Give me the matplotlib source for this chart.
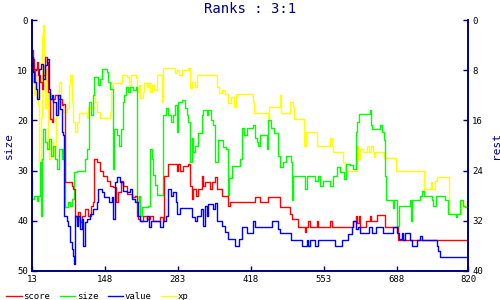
import matplotlib
matplotlib.use("Agg")
import matplotlib.pyplot as plt

# ── data, (step, rank) pairs ──────────────────────────────────────────
score = [(13, 6), (14, 9), (15.5, 7.7), (16.7, 12.3), (18.6, 9.7), (21.6, 8.3), (24.7, 11),
         (27.8, 12.3), (30.9, 13.7), (34, 11), (37, 7.3), (40, 8.3), (43, 14.3), (46, 19.7),
         (49.4, 20.3), (52.5, 15.7), (55.6, 15), (61.7, 15.7), (67.9, 17), (71, 16.7),
         (74, 32.3), (86.4, 33), (89.5, 33.7), (92.6, 39), (95.7, 40), (98.8, 38.3),
         (101.9, 40.3), (105, 39), (111, 37.7), (117, 39), (121.6, 37), (126.5, 36.3),
         (128.4, 27.7), (132.7, 28.3), (138.9, 30), (145, 31), (151, 32), (157.4, 33),
         (163.5, 33.3), (168.5, 36.3), (172.8, 34.3), (177, 32), (182, 33), (188, 34.7),
         (197.5, 35.3), (203.7, 35), (206.7, 39), (209.8, 39.7), (213, 40), (219, 39),
         (225, 39.7), (231.5, 39), (237.7, 40), (250, 39.3), (256, 40), (257.4, 31),
         (265.4, 28.7), (280.9, 30), (284, 28.7), (287, 30), (293, 29), (302.5, 28.7),
         (305.6, 33), (308.6, 35.7), (311.7, 33.7), (316, 35), (321, 33.7), (327, 31),
         (330, 33), (333, 32.3), (342.6, 33.7), (345.7, 32.3), (351.8, 31.3), (355, 33.7),
         (364, 35), (376.5, 37), (379.6, 36.3), (425.8, 35.2), (435, 36.3), (450.4, 35.2),
         (472, 37.3), (490.5, 38.7), (493.6, 39.7), (506, 41.2), (518.3, 42.3), (520, 41.2),
         (524.5, 40), (527.6, 41.2), (540, 40), (543, 41.2), (564.6, 40), (567.7, 41.2),
         (607.8, 40), (612.7, 39), (615, 40.5), (617.6, 39), (620, 41.2), (632, 40),
         (638.5, 39), (640.4, 40), (651, 38.9), (666, 41.2), (691, 43.9), (820, 43.9)]

size = [(13, 31.6), (13.5, 35.6), (16.7, 35), (21.6, 36), (24.7, 35), (27.8, 28.3),
        (29.7, 39), (31.5, 27.7), (34, 21.7), (37, 24.3), (41.4, 25.7), (45, 23.7),
        (47.6, 27), (52.5, 25), (55.6, 27.7), (60, 29.7), (63.6, 25.7), (67.9, 27.7),
        (71, 25.7), (74, 37.3), (80.3, 36.3), (83.3, 37), (86.4, 35.6), (91.4, 30.3),
        (95.7, 30), (111, 27.7), (115.4, 25.7), (118.5, 16.3), (122.2, 19), (125.3, 15),
        (127.8, 11.3), (135.8, 13), (138.9, 11.7), (142, 9.7), (151.2, 10.3), (154.3, 12.3),
        (157.4, 13.7), (162.3, 29.7), (164.8, 21.7), (171, 23), (174.7, 25), (177.7, 21.7),
        (180.8, 16.3), (183.3, 15), (186.4, 13.3), (191.3, 14.3), (194.4, 13.3), (200.6, 14),
        (205.5, 13.3), (206.7, 21), (208, 36.3), (211, 35), (213, 39), (216, 37.2),
        (228.4, 37), (231.5, 25.6), (234.6, 27.6), (237.7, 30.9), (240.8, 32.9),
        (243.9, 34.9), (256.2, 18.9), (261, 17.6), (265.4, 18.9), (269.8, 20.3),
        (274.7, 18.9), (277.8, 17), (280.9, 22.3), (284, 16.3), (290, 16), (296.3, 17.6),
        (299.4, 18.9), (302.5, 20.3), (305.6, 28.3), (308.6, 23.6), (311.7, 26.3),
        (314.8, 25), (321, 22.6), (327, 19), (330, 18), (336.4, 19), (339.5, 18),
        (343.8, 20), (348.7, 21), (352.4, 28.3), (356.8, 24), (367.3, 25.3), (372.2, 25.6),
        (375.3, 34.9), (378.4, 31.5), (382.7, 29), (398.1, 27.6), (401.2, 21.6),
        (405.5, 23), (410.4, 21.6), (422.7, 21), (425.8, 23.6), (428.8, 24.3), (432, 25),
        (435, 23), (448.6, 25.6), (450.4, 20), (454.8, 21.6), (461, 22.6), (469, 27),
        (472, 29.3), (477, 28.3), (482.5, 27), (491.8, 28.3), (493.6, 35.9), (496.7, 31),
        (518.3, 33.6), (521.4, 31), (536.8, 32), (543, 31), (546, 33), (552.2, 32),
        (564.6, 33), (570.7, 31), (578.2, 29.3), (583, 30.2), (591, 31.6), (593.6, 28.6),
        (601.6, 28.9), (607.8, 29.6), (612, 22.3), (615, 20.3), (618.3, 18.8), (638.5, 18),
        (639.7, 21), (642, 21.7), (658, 21), (660.7, 22.3), (664.4, 24), (667, 31),
        (668, 35.9), (681.7, 37.5), (683.5, 35.9), (689, 41), (691.6, 37), (712.6, 35.9),
        (714.4, 40), (716.3, 35.9), (731, 35), (735.4, 34), (738.5, 35), (752.7, 35.9),
        (755.7, 37), (760.7, 35), (777.3, 35.9), (783.5, 38.7), (797.7, 39.2),
        (800, 38.7), (805, 35.9), (810, 37), (814.4, 37.2), (820, 37.2)]

value = [(13, 7.3), (14.2, 10.3), (16.7, 12.3), (20.4, 13.7), (22.9, 15.7), (26.6, 9.7),
         (29, 8.7), (32.7, 11.7), (37, 9), (41.4, 7.7), (43.9, 13.7), (46.3, 15.7),
         (49.4, 15), (52.5, 16.3), (57.4, 19), (61.7, 15), (64.8, 17.7), (67.9, 22.3),
         (71, 23), (72.9, 39), (77.2, 40), (80.3, 41), (83.3, 44.3), (86.4, 45.7),
         (88.3, 47), (90.7, 48.7), (92.6, 39), (95.7, 41), (98.8, 39), (101.9, 41.7),
         (105, 39.7), (108, 45), (111, 40.3), (115.4, 39.7), (120.4, 38.7), (126.5, 37.7),
         (132.7, 36.3), (135.8, 33.7), (142, 34.3), (146.3, 35.3), (156, 36.3),
         (160.5, 35.3), (163.5, 39.7), (166.6, 32.3), (171, 31.3), (176, 32.3), (182, 34),
         (188.2, 34.3), (194.4, 33.7), (197.5, 35.7), (203.7, 36.3), (209.8, 39), (213, 40),
         (225, 39), (230, 41.3), (232.7, 40), (250, 41.2), (256, 40), (261, 39),
         (265.4, 33.7), (269.8, 35), (274.7, 34.3), (279, 36.3), (280.9, 38.7), (287, 37.5),
         (308.6, 39.3), (314.8, 40), (319, 39), (325.3, 37.7), (329, 41), (333.3, 37),
         (336.4, 39), (339.5, 36.7), (348.7, 37.7), (352, 36.5), (355, 40), (364, 41),
         (370.3, 42.3), (376.5, 43.7), (388.8, 45), (396.9, 43.7), (401.2, 41.2),
         (410.4, 42.5), (422.7, 40), (425.8, 41.2), (456.6, 40), (469, 41.7), (472, 42.5),
         (492.4, 43.9), (512, 45), (521.4, 43.9), (524.5, 45), (527.6, 43.9), (536.8, 45),
         (543, 43.9), (574, 45), (586, 43.9), (598.5, 42.7), (604.7, 41.2), (607.8, 40),
         (612.7, 41.7), (617, 41.2), (620, 42.5), (637.3, 41.2), (642.2, 42.5),
         (649.6, 41.2), (663.2, 42.5), (681.7, 41.2), (688, 42.5), (692.8, 43.7),
         (697, 42.5), (700.2, 43.9), (703.3, 42.5), (712.6, 43.9), (715.6, 45),
         (725, 43.9), (731, 43), (734, 43.9), (762, 45), (765, 46), (768, 47.2),
         (820, 47.2)]

xp = [(13, 12.3), (14.2, 9.7), (16.7, 15), (19.2, 11), (21.6, 14.3), (24.7, 17),
      (26.6, 28.3), (29, 19.6), (31.5, 3), (32.7, 1), (35.2, 7), (37, 17.6), (38.9, 9.7),
      (42, 25.6), (45, 27.6), (48.2, 24.3), (51.3, 27), (54.3, 25), (57.4, 18.3),
      (60.5, 15), (63.6, 12.3), (66.7, 16.3), (71, 18.3), (77.2, 17.6), (81.5, 13),
      (84, 11), (87, 16.3), (89.5, 20.3), (93.2, 22.3), (97, 20.3), (100.6, 18.6),
      (114.2, 19.6), (117.3, 17.3), (123.4, 17.6), (126.5, 15), (129.6, 16.3),
      (132.7, 18.3), (138.9, 19.6), (157.4, 18.3), (159.2, 13.6), (163.5, 12.6),
      (179, 11), (189.5, 11.3), (192.5, 13), (195.6, 11), (205.5, 11.6), (208, 14.3),
      (211.7, 13), (213, 15.6), (218, 14.3), (220.4, 12.6), (225.3, 13.3), (228.4, 12.6),
      (231.5, 14.3), (234.6, 13), (239, 14), (243.9, 11), (254.3, 16.3), (256.2, 9.6),
      (277.8, 10.6), (280.9, 9.9), (285.8, 11), (290, 10), (302.5, 9.6), (305.6, 13.6),
      (308.6, 12.3), (314.8, 13.3), (319, 11), (355, 13.3), (359.2, 14.6), (365.4, 14),
      (370.3, 14.8), (375.3, 16.6), (380.8, 15.3), (387.6, 17.3), (390.7, 14.8),
      (421.4, 16.3), (424, 18.6), (449, 20.3), (451, 17.3), (472, 15), (473.9, 18.6),
      (491.2, 16.3), (495.5, 17.3), (498.6, 19.7), (517, 25), (520, 22.3), (540, 25),
      (564.6, 23.6), (567.7, 25), (570.7, 26.2), (589.3, 28.3), (592.3, 30), (613.7, 25),
      (616.4, 27.6), (620, 25.6), (625, 26.3), (632.3, 25), (637.3, 26.3), (640.4, 25),
      (643.4, 26.3), (646, 27.3), (648.4, 26.3), (664.4, 27.4), (686.6, 30), (739, 33.6),
      (750.8, 32.3), (752.7, 33.6), (758.8, 32), (762, 31.2), (784.7, 38.7), (807, 35.9),
      (811.3, 37.2), (820, 37.2)]

x_ticks = [13, 148, 283, 418, 553, 688, 820]
left_ticks = [0, 10, 20, 30, 40, 50]
right_ticks = [0, 8, 16, 24, 32, 40]

NAVY = "#000080"
MONO = "DejaVu Sans Mono"

fig = plt.figure(figsize=(5, 3), dpi=100)
ax = fig.add_axes([0.064, 0.097, 0.872, 0.836])

series = [
    ("xp", xp, "#ffff00"),
    ("size", size, "#00ff00"),
    ("score", score, "#ff0000"),
    ("value", value, "#0000ff"),
]
handles = {}
for name, pts, col in series:
    xs = [p[0] for p in pts]
    ys = [p[1] for p in pts]
    ln, = ax.plot(xs, ys, drawstyle="steps-post", color=col, lw=1.0, label=name)
    handles[name] = ln

ax.set_xlim(13, 820)
ax.set_ylim(50, 0)
ax.set_xticks(x_ticks)
ax.set_yticks(left_ticks)

ax2 = ax.twinx()
ax2.set_ylim(40, 0)
ax2.set_yticks(right_ticks)

for a in (ax, ax2):
    for s in a.spines.values():
        s.set_color(NAVY)
        s.set_linewidth(1.2)
    a.spines["top"].set_visible(False)
    a.tick_params(direction="in", length=3.5, width=1, color=NAVY,
                  labelsize=6.5, pad=3)
    for lab in a.get_xticklabels() + a.get_yticklabels():
        lab.set_fontfamily(MONO)

ax.set_ylabel("size", color=NAVY, fontsize=8, fontfamily=MONO, labelpad=2)
ax2.set_ylabel("rest", color=NAVY, fontsize=8, fontfamily=MONO, rotation=90, labelpad=6)
ax.set_title("Ranks : 3:1", color=NAVY, fontsize=10, fontfamily=MONO, pad=5)

order = ["score", "size", "value", "xp"]
fig.legend([handles[k] for k in order], order, loc="lower left",
           bbox_to_anchor=(0.0, -0.025), ncol=4, frameon=False,
           prop={"family": MONO, "size": 6.5}, handlelength=1.7,
           handletextpad=0.15, columnspacing=1.1,
           borderaxespad=0.3)

fig.savefig("out.png", dpi=100)
